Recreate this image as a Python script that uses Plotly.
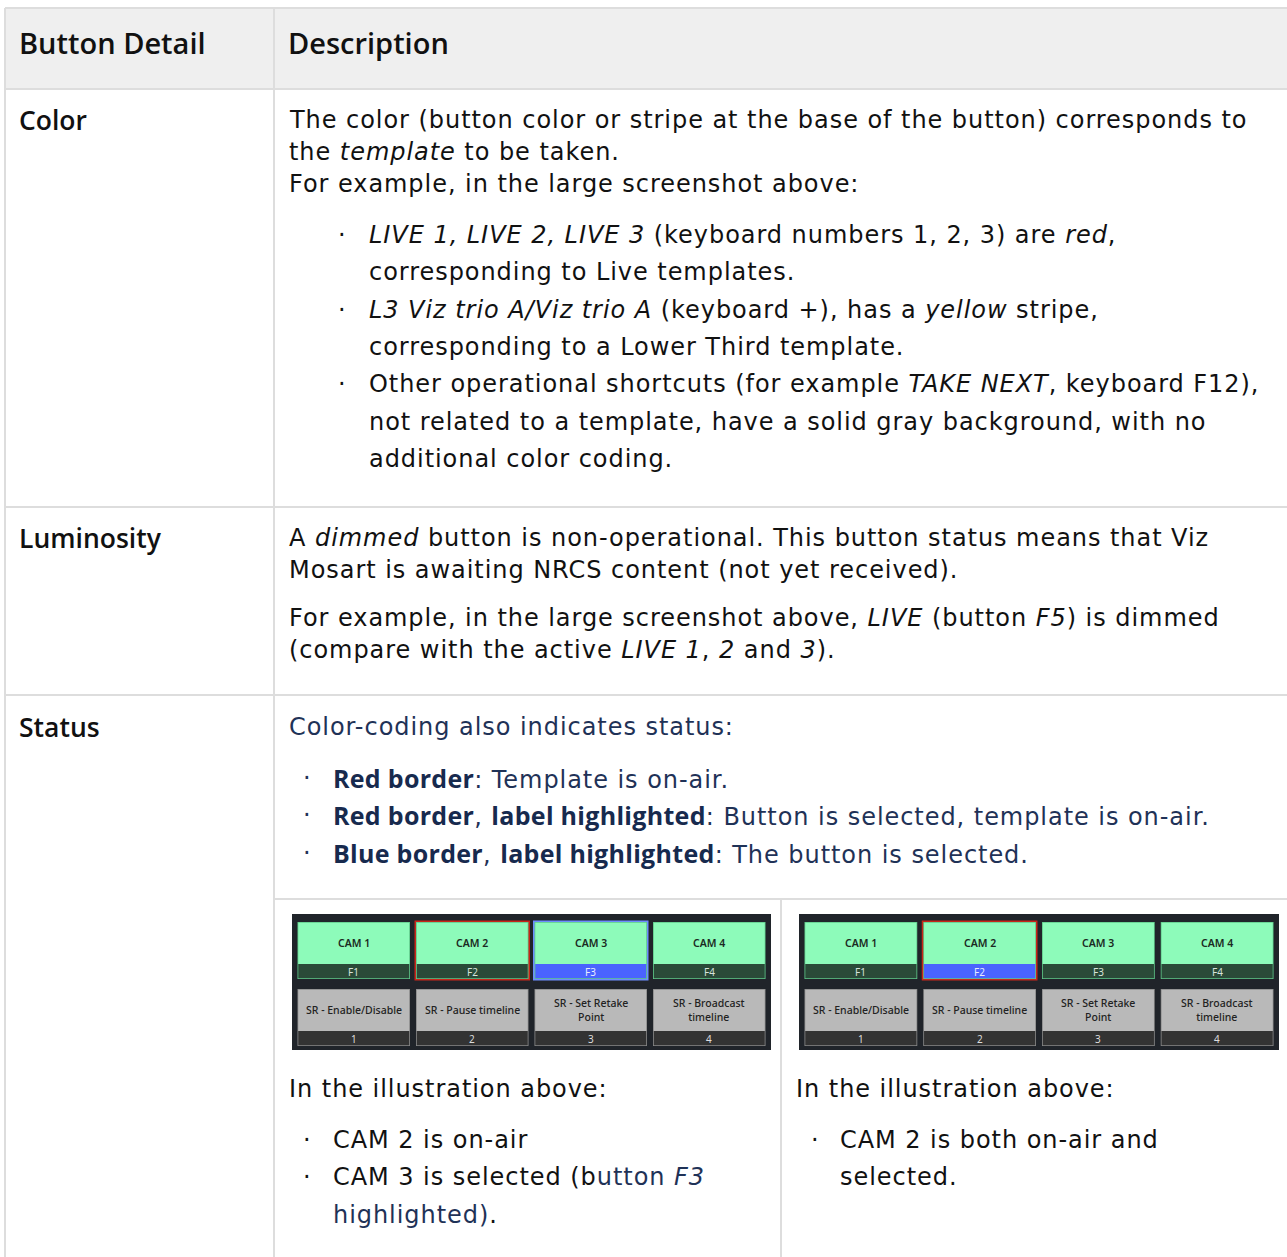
import plotly.graph_objects as go

W, H = 1287, 1257

# ---------------- content ----------------
HEADERS = ["Button Detail", "Description"]
ROW_LABELS = ["Color", "Luminosity", "Status"]

COLOR_PARA = [
    "The color (button color or stripe at the base of the button) corresponds to",
    "the <i>template</i> to be taken.",
    "For example, in the large screenshot above:",
]
COLOR_BULLETS = [
    ["<i>LIVE 1, LIVE 2, LIVE 3</i> (keyboard numbers 1, 2, 3) are <i>red</i>,",
     "corresponding to Live templates."],
    ["<i>L3 Viz trio A/Viz trio A</i> (keyboard +), has a <i>yellow</i> stripe,",
     "corresponding to a Lower Third template."],
    ["Other operational shortcuts (for example <i>TAKE NEXT</i>, keyboard F12),",
     "not related to a template, have a solid gray background, with no",
     "additional color coding."],
]
LUM_PARA1 = [
    "A <i>dimmed</i> button is non-operational. This button status means that Viz",
    "Mosart is awaiting NRCS content (not yet received).",
]
LUM_PARA2 = [
    "For example, in the large screenshot above, <i>LIVE</i> (button <i>F5</i>) is dimmed",
    "(compare with the active <i>LIVE 1</i>, <i>2</i> and <i>3</i>).",
]
STATUS_INTRO = "Color-coding also indicates status:"
BOLD_OPEN = ("<span style='font-family:Open Sans;font-weight:700;font-size:25px;"
             "letter-spacing:0.3px;fill:#172a4e'>")
STATUS_BULLETS = [
    BOLD_OPEN + "Red border</span>: Template is on-air.",
    BOLD_OPEN + "Red border</span>, " + BOLD_OPEN + "label highlighted</span>: Button is selected, template is on-air.",
    BOLD_OPEN + "Blue border</span>, " + BOLD_OPEN + "label highlighted</span>: The button is selected.",
]
ILLUS_INTRO = "In the illustration above:"
NAVY = "#1f3257"
LEFT_BULLETS = [
    ["CAM 2 is on-air"],
    ["CAM 3 is selected (b<span style='fill:%s'>utton <i>F3</i></span>" % NAVY,
     "<span style='fill:%s'>highlighted)</span>." % NAVY],
]
RIGHT_BULLETS = [
    ["CAM 2 is both on-air and", "selected."],
]

CAM_LABELS = ["CAM 1", "CAM 2", "CAM 3", "CAM 4"]
CAM_KEYS = ["F1", "F2", "F3", "F4"]
SR_LABELS = ["SR - Enable/Disable", "SR - Pause timeline",
             "SR - Set Retake<br>Point", "SR - Broadcast<br>timeline"]
SR_KEYS = ["1", "2", "3", "4"]
# per illustration: on-air (red border), highlighted label, blue border
ILLUS_STATES = [
    {"onair": 1, "label_hl": 2, "blue_border": 2},
    {"onair": 1, "label_hl": 1, "blue_border": None},
]

# ---------------- styles ----------------
BODY_FONT = "DejaVu Sans"
HEAD_FONT = "Open Sans"
TEXT_C = "#111111"
LINE_C = "#dddddd"
BODY_SIZE = 24
LSP = "0.95px"
LH_PARA = 32
LH_BUL = 37.3
DX = -2  # annotation inner padding compensation

shapes = []
annos = []


def txt(x, y, s, size=BODY_SIZE, color=TEXT_C, family=BODY_FONT, weight=None,
        xanchor="left", spacing=None):
    f = dict(family=family, size=size, color=color)
    if weight:
        f["weight"] = weight
    if spacing:
        s = "<span style='letter-spacing:%s'>%s</span>" % (spacing, s)
    if xanchor == "left":
        x = x + DX
    annos.append(dict(x=x, y=y, xref="x", yref="y", text=s, showarrow=False,
                      xanchor=xanchor, yanchor="middle", font=f, align="center"))


def rect(x0, y0, x1, y1, fill, line=None, lw=0):
    shapes.append(dict(type="rect", xref="x", yref="y", x0=x0, y0=y0, x1=x1, y1=y1,
                       fillcolor=fill, line=dict(color=line or fill, width=lw),
                       layer="above"))


def hline(y, x0, x1):
    shapes.append(dict(type="line", xref="x", yref="y", x0=x0, x1=x1, y0=y, y1=y,
                       line=dict(color=LINE_C, width=2)))


def vline(x, y0, y1):
    shapes.append(dict(type="line", xref="x", yref="y", x0=x, x1=x, y0=y0, y1=y1,
                       line=dict(color=LINE_C, width=2)))


def para(x, y0, lines, lh=LH_PARA, color=TEXT_C):
    for i, s in enumerate(lines):
        txt(x, y0 + i * lh, s, color=color, spacing=LSP)
    return y0 + len(lines) * lh


def bullets(xb, xt, y0, items, lh=LH_BUL, color=TEXT_C):
    y = y0
    for item in items:
        txt(xb, y, "·", color=color)
        for s in item:
            txt(xt, y, s, color=color, spacing=LSP)
            y += lh
    return y


# ---------------- table grid ----------------
L, T, R = 5, 8, W + 2
COL = 274
ROW_Y = [89, 507, 695]
INNER_Y = 899
INNER_X = 781

shapes.append(dict(type="rect", xref="x", yref="y", x0=L, y0=T, x1=R, y1=ROW_Y[0],
                   fillcolor="#efefef", line=dict(width=0), layer="below"))
hline(T, L, R)
for y in ROW_Y:
    hline(y, L, R)
hline(INNER_Y, COL, R)
vline(L, T, H + 2)
vline(COL, T, H + 2)
vline(INNER_X, INNER_Y, H + 2)

# ---------------- header & labels ----------------
txt(19, 42, HEADERS[0], size=29, family=HEAD_FONT, weight=600)
txt(288, 42, HEADERS[1], size=29, family=HEAD_FONT, weight=600)
for lab, y in zip(ROW_LABELS, [120, 538, 727]):
    txt(19, y, lab, size=26.5, family=HEAD_FONT, weight=600)

# ---------------- Color row ----------------
para(289, 120, COLOR_PARA)
bullets(338, 369, 235, COLOR_BULLETS)

# ---------------- Luminosity row ----------------
para(289, 538, LUM_PARA1)
para(289, 618, LUM_PARA2)

# ---------------- Status row ----------------
txt(289, 727, STATUS_INTRO, color=NAVY, spacing=LSP)
bullets(303, 333, 778, [[s] for s in STATUS_BULLETS], color=NAVY)

txt(289, 1089, ILLUS_INTRO, spacing=LSP)
bullets(303, 333, 1140, LEFT_BULLETS)
txt(796, 1089, ILLUS_INTRO, spacing=LSP)
bullets(811, 840, 1140, RIGHT_BULLETS)

# ---------------- button illustrations ----------------
ILLUS_BOX = [(292, 914, 771, 1050), (799, 914, 1279, 1050)]
GREEN = "#8dfbba"
DKGREEN = "#2a4a38"
GRAY = "#b9b9b9"
DKGRAY = "#333333"
RED = "#c8261a"
BLUE_B = "#6d8dff"
BLUE_S = "#4a63ff"
BTN_FONT = "Noto Sans"

for (bx0, by0, bx1, by1), st in zip(ILLUS_BOX, ILLUS_STATES):
    rect(bx0, by0, bx1, by1, "#20242a")
    pad, gap = 5.5, 6
    bw = (bx1 - bx0 - 2 * pad - 3 * gap) / 4
    for i in range(4):
        x0 = bx0 + pad + i * (bw + gap)
        x1 = x0 + bw
        xc = (x0 + x1) / 2
        # CAM button
        y0, y1 = 922, 979
        if st["onair"] == i:
            rect(x0 - 1.5, y0 - 1.5, x1 + 1.5, y1 + 1.5, RED)
        elif st["blue_border"] == i:
            rect(x0 - 1.5, y0 - 1.5, x1 + 1.5, y1 + 1.5, BLUE_B)
        rect(x0, y0, x1, y1, "#5fc98a")
        rect(x0 + 0.8, y0 + 0.8, x1 - 0.8, 964, GREEN)
        stripe = BLUE_S if st["label_hl"] == i else DKGREEN
        rect(x0 + 0.8, 964, x1 - 0.8, y1 - 0.8, stripe)
        txt(xc, 943, CAM_LABELS[i], size=10.5, color="#1b2a22", family=BTN_FONT,
            weight=600, xanchor="center")
        txt(xc, 971.5, CAM_KEYS[i], size=10,
            color="#d6e3dc" if stripe == DKGREEN else "#e8ecff",
            family=BTN_FONT, xanchor="center")
        # SR button
        y0, y1 = 989, 1046
        rect(x0, y0, x1, y1, "#8a8a8a")
        rect(x0 + 0.8, y0 + 0.8, x1 - 0.8, 1031, GRAY)
        rect(x0 + 0.8, 1031, x1 - 0.8, y1 - 0.8, DKGRAY)
        txt(xc, 1010, SR_LABELS[i], size=10.5, color="#222222", family=BTN_FONT,
            weight=500, xanchor="center")
        txt(xc, 1038.5, SR_KEYS[i], size=10, color="#dddddd", family=BTN_FONT,
            xanchor="center")

fig = go.Figure()
fig.update_layout(
    width=W, height=H,
    margin=dict(l=0, r=0, t=0, b=0),
    paper_bgcolor="white", plot_bgcolor="white",
    xaxis=dict(range=[0, W], visible=False, fixedrange=True),
    yaxis=dict(range=[H, 0], visible=False, fixedrange=True),
    shapes=shapes, annotations=annos, showlegend=False,
)
fig.write_html("out.html", config={"displayModeBar": False},
               post_script="document.body.style.margin='0';document.body.style.overflow='hidden';")
